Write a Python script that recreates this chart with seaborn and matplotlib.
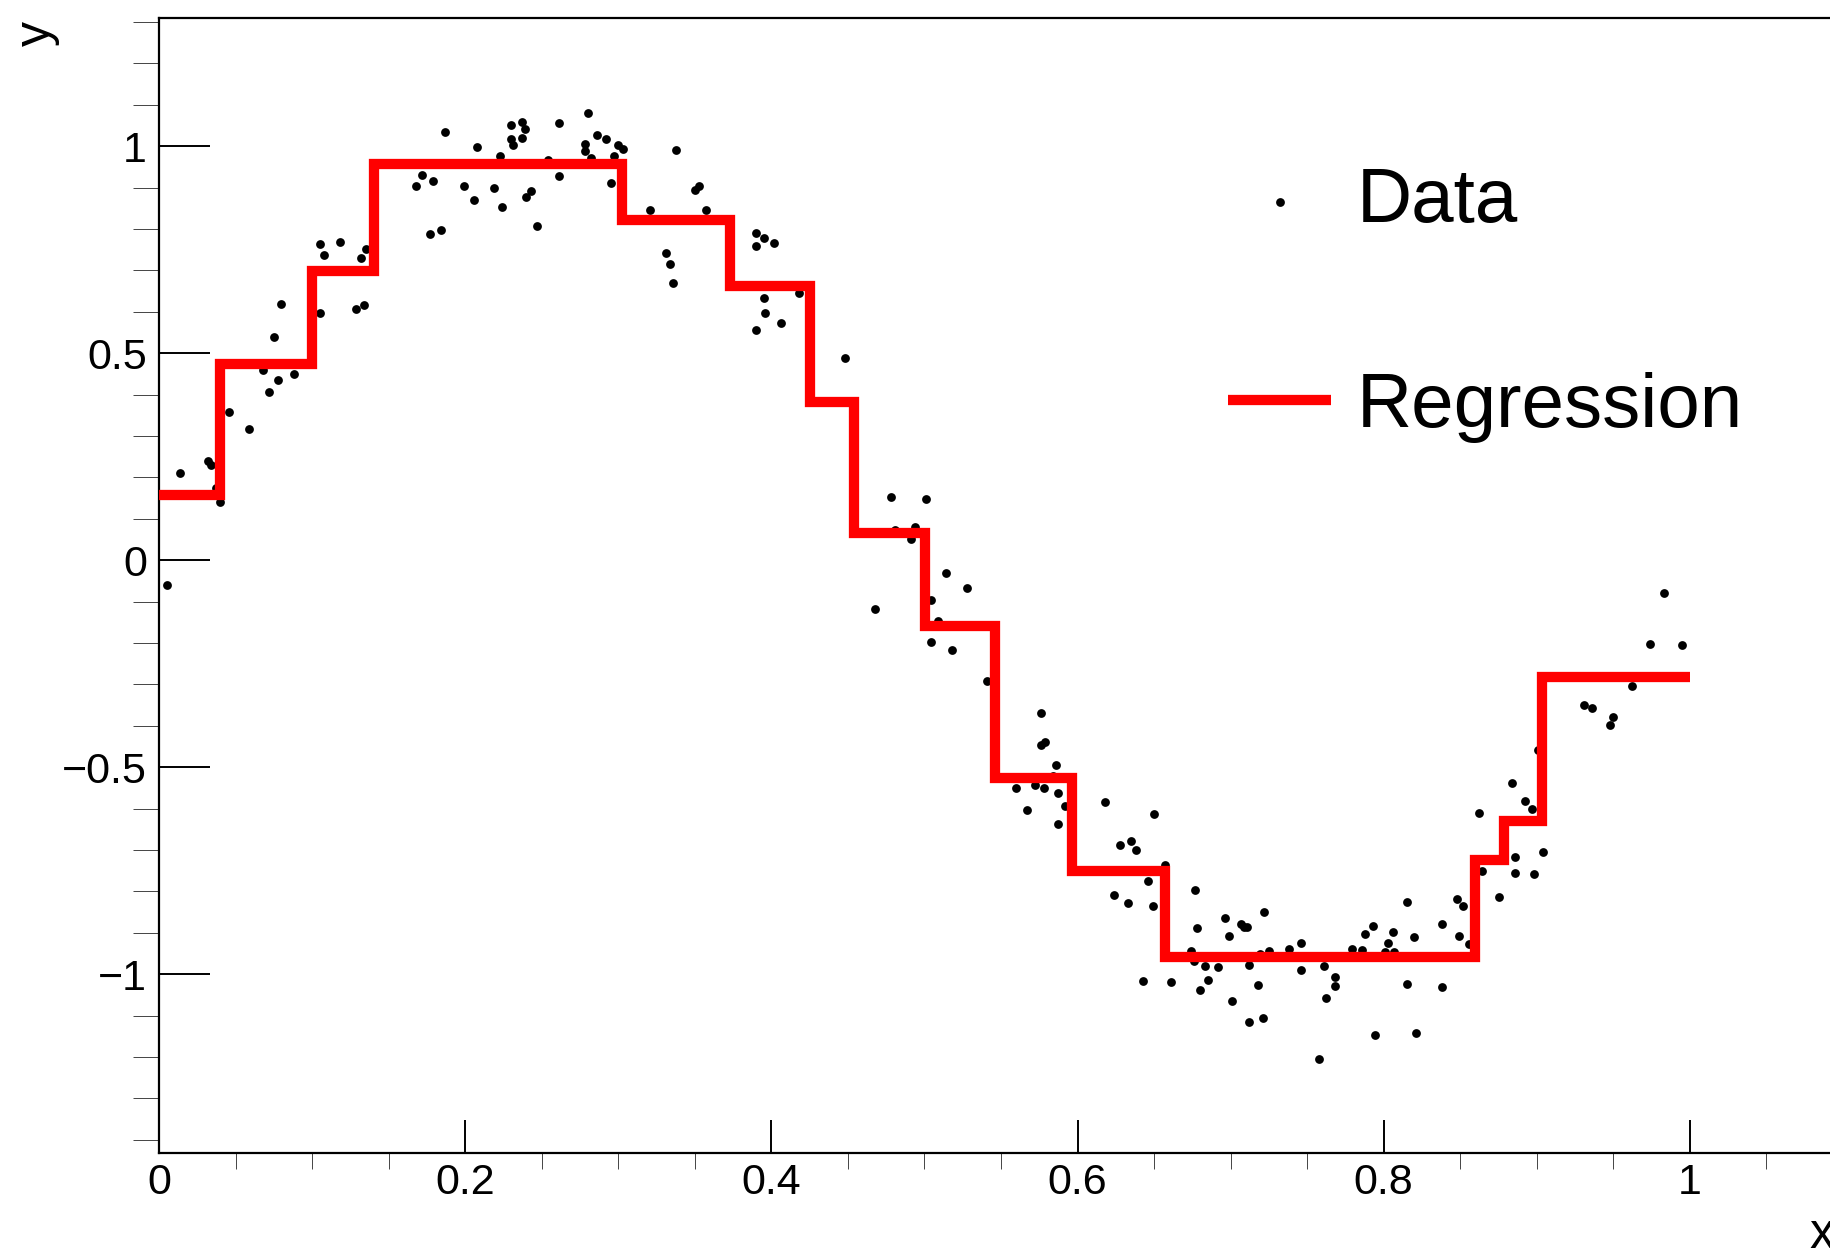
"""Piecewise-constant regression fitted to a noisy sine, ROOT-style look."""

import matplotlib

matplotlib.use("Agg")
import matplotlib.pyplot as plt
import numpy as np
import seaborn as sns
from matplotlib.ticker import FixedLocator, MultipleLocator

# scattered training points
DATA_X = [
    0.005, 0.014, 0.032, 0.034, 0.037, 0.040, 0.046, 0.059, 0.068, 0.072,
    0.078, 0.088, 0.075, 0.080, 0.105, 0.105, 0.108, 0.118, 0.129, 0.134,
    0.132, 0.135, 0.168, 0.172, 0.179, 0.177, 0.184, 0.187, 0.199, 0.206,
    0.208,
    0.219, 0.223, 0.224, 0.230, 0.230, 0.231, 0.237, 0.239, 0.237, 0.240,
    0.243, 0.247, 0.254, 0.261, 0.261, 0.280, 0.286, 0.292, 0.278, 0.278,
    0.282, 0.300, 0.303, 0.297, 0.295, 0.321, 0.338, 0.331, 0.334, 0.336,
    0.350, 0.353, 0.357, 0.390, 0.395, 0.390, 0.402, 0.395, 0.396, 0.390,
    0.406, 0.418,
    0.448, 0.478, 0.501, 0.481, 0.494, 0.491, 0.468, 0.514, 0.528, 0.504,
    0.509, 0.504, 0.518, 0.541, 0.576, 0.579, 0.576, 0.586, 0.584, 0.560,
    0.572, 0.578, 0.587, 0.567, 0.587, 0.592, 0.618,
    0.650, 0.628, 0.635, 0.638, 0.624, 0.633, 0.646, 0.649, 0.657, 0.643,
    0.661, 0.677, 0.678, 0.674, 0.676, 0.683, 0.680, 0.685, 0.692,
    0.696, 0.699, 0.701, 0.707, 0.709, 0.711, 0.712, 0.712, 0.718, 0.719,
    0.721, 0.722, 0.725, 0.738, 0.746, 0.746, 0.758, 0.761, 0.762, 0.768,
    0.768, 0.779, 0.786, 0.788, 0.793, 0.794, 0.801, 0.803, 0.806, 0.807,
    0.815, 0.815, 0.820, 0.821,
    0.838, 0.838, 0.848, 0.852, 0.849, 0.856, 0.862, 0.864, 0.875, 0.884,
    0.886, 0.886, 0.892, 0.897, 0.898, 0.904, 0.901, 0.931, 0.936, 0.950,
    0.948, 0.962, 0.974, 0.983, 0.995,
]
DATA_Y = [
    -0.060, 0.211, 0.239, 0.231, 0.174, 0.141, 0.358, 0.317, 0.460, 0.407,
    0.435, 0.451, 0.538, 0.620, 0.597, 0.763, 0.738, 0.769, 0.607, 0.617,
    0.729, 0.751, 0.905, 0.930, 0.915, 0.789, 0.798, 1.035, 0.904, 0.870,
    0.998,
    0.900, 0.977, 0.853, 1.051, 1.017, 1.004, 1.059, 1.042, 1.021, 0.877,
    0.892, 0.807, 0.967, 1.055, 0.927, 1.081, 1.027, 1.018, 1.005, 0.989,
    0.971, 1.002, 0.993, 0.977, 0.912, 0.847, 0.991, 0.742, 0.715, 0.670,
    0.895, 0.904, 0.845, 0.790, 0.779, 0.760, 0.766, 0.634, 0.597, 0.555,
    0.572, 0.646,
    0.488, 0.153, 0.148, 0.072, 0.081, 0.052, -0.117, -0.032, -0.066, -0.096,
    -0.146, -0.198, -0.218, -0.293, -0.369, -0.440, -0.446, -0.495, -0.521, -0.550,
    -0.543, -0.550, -0.562, -0.603, -0.638, -0.594, -0.583,
    -0.614, -0.689, -0.679, -0.700, -0.809, -0.829, -0.774, -0.836, -0.737, -1.016,
    -1.018, -0.797, -0.888, -0.944, -0.968, -0.980, -1.038, -1.015, -0.983,
    -0.865, -0.908, -1.065, -0.879, -0.885, -0.886, -1.115, -0.979, -1.027, -0.951,
    -1.106, -0.850, -0.945, -0.940, -0.924, -0.989, -1.204, -0.980, -1.057, -1.008,
    -1.028, -0.940, -0.941, -0.903, -0.883, -1.148, -0.947, -0.924, -0.899, -0.947,
    -0.825, -1.024, -0.911, -1.141,
    -0.880, -1.031, -0.819, -0.836, -0.907, -0.927, -0.610, -0.751, -0.814, -0.539,
    -0.717, -0.755, -0.582, -0.602, -0.757, -0.704, -0.458, -0.350, -0.356, -0.379,
    -0.398, -0.303, -0.202, -0.080, -0.204,
]

# regression output: bin edges and the constant value in each bin
STEP_EDGES = [0.0, 0.040, 0.100, 0.1406, 0.3027, 0.3733, 0.425, 0.4539,
              0.5003, 0.5458, 0.5965, 0.657, 0.8594, 0.8787, 0.9037, 1.0]
STEP_LEVELS = [0.158, 0.475, 0.698, 0.957, 0.8215, 0.663, 0.382, 0.066,
               -0.158, -0.525, -0.750, -0.958, -0.725, -0.629, -0.282]

X_TICKS = [0.0, 0.2, 0.4, 0.6, 0.8, 1.0]
X_TICK_LABELS = ["0", "0.2", "0.4", "0.6", "0.8", "1"]
Y_TICKS = [-1.0, -0.5, 0.0, 0.5, 1.0]
Y_TICK_LABELS = ["\u22121", "\u22120.5", "0", "0.5", "1"]

W, H, DPI = 1830, 1251, 100


def main() -> None:
    sns.set_style("ticks")
    plt.rcParams["font.family"] = ["Liberation Sans", "DejaVu Sans"]
    plt.rcParams["text.color"] = "black"

    fig = plt.figure(figsize=(W / DPI, H / DPI), dpi=DPI)
    # frame runs slightly past the right edge, as in the cropped original
    ax = fig.add_axes([159 / W, (H - 1153) / H, 1684 / W, (1153 - 17.5) / H])

    sns.scatterplot(x=DATA_X, y=DATA_Y, color="black", s=40, linewidth=0,
                    label="Data", ax=ax, zorder=2)
    levels = np.append(STEP_LEVELS, STEP_LEVELS[-1])
    sns.lineplot(x=STEP_EDGES, y=levels, drawstyle="steps-post", color="#ff0000",
                 linewidth=7.4, solid_joinstyle="miter", solid_capstyle="butt",
                 estimator=None, sort=False, label="Regression", ax=ax, zorder=3)

    ax.set_xlim(0, 1.1)
    ax.set_ylim(-1.432, 1.311)

    ax.xaxis.set_major_locator(FixedLocator(X_TICKS))
    ax.set_xticklabels(X_TICK_LABELS)
    ax.xaxis.set_minor_locator(MultipleLocator(0.05))
    ax.yaxis.set_major_locator(FixedLocator(Y_TICKS))
    ax.set_yticklabels(Y_TICK_LABELS)
    ax.yaxis.set_minor_locator(MultipleLocator(0.1))

    ax.tick_params(direction="in", width=1.4, labelsize=31, colors="black")
    ax.tick_params(axis="x", which="major", length=24, pad=7)
    ax.tick_params(axis="x", which="minor", length=11.8)
    ax.tick_params(axis="y", which="major", length=36.4, pad=8.6)
    ax.tick_params(axis="y", which="minor", length=18.5)
    for side in ("left", "bottom", "top", "right"):
        ax.spines[side].set_linewidth(1.6)
        ax.spines[side].set_color("black")
    ax.set_xlabel("")
    ax.set_ylabel("")

    fig.text(1809 / W, (H - 1248) / H, "x", fontsize=36, ha="left", va="baseline")
    fig.text(50 / W, 1 - 21 / H, "y", fontsize=36, rotation=90,
             rotation_mode="anchor", ha="right", va="baseline")

    ax.legend(loc="upper left", bbox_to_anchor=(1228 / W, 1 - 167 / H),
              bbox_transform=fig.transFigure, frameon=False, fontsize=55,
              handlelength=1.35, handletextpad=0.34, labelspacing=1.75,
              borderpad=0, borderaxespad=0, labelcolor="black")

    fig.savefig("out.png", dpi=DPI, facecolor="white")
    plt.close(fig)


if __name__ == "__main__":
    main()
